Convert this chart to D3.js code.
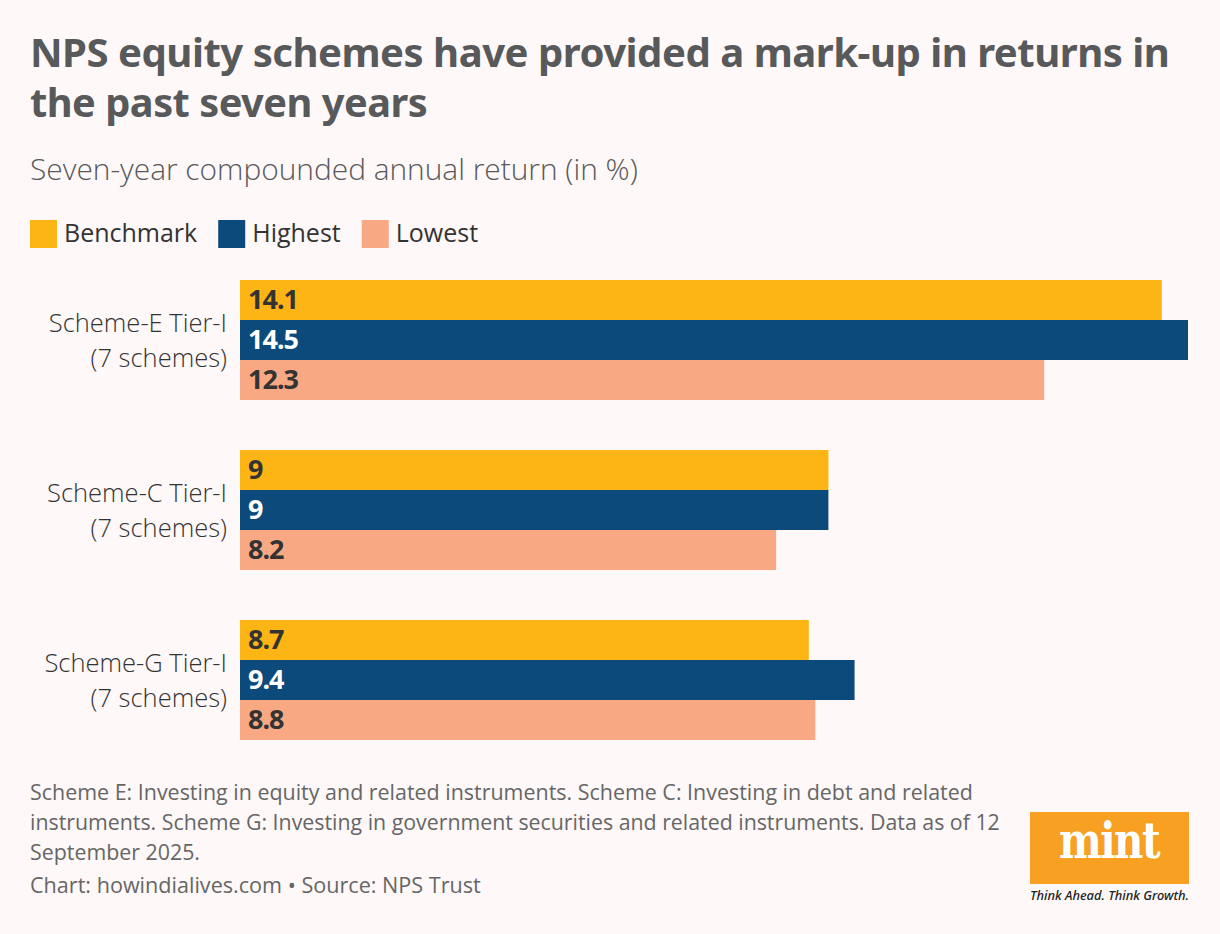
<!DOCTYPE html>
<html><head><meta charset="utf-8">
<script src="https://cdn.jsdelivr.net/npm/d3@7/dist/d3.min.js"></script>
<style>
html,body{margin:0;padding:0;background:#fef8f8;}
svg{display:block;}
</style></head>
<body>
<svg id="chart" width="1220" height="934"></svg>
<script>
const categories = [["Scheme-E Tier-I","(7 schemes)"],["Scheme-C Tier-I","(7 schemes)"],["Scheme-G Tier-I","(7 schemes)"]];
const seriesNames = ["Benchmark","Highest","Lowest"];
const benchmark = [14.1, 9, 8.7];
const highest = [14.5, 9, 9.4];
const lowest = [12.3, 8.2, 8.8];
const colors = ["#fdb515","#0b4a7a","#f8a984"];
const labelColors = ["#333333","#ffffff","#333333"];
const series = [benchmark, highest, lowest];

const svg = d3.select("#chart");
svg.append("rect").attr("width",1220).attr("height",934).attr("fill","#fef8f8");
const FONT = "'Open Sans', 'Noto Sans', sans-serif";

function fit(t, w){
  const n = t.node();
  let fs = parseFloat(t.attr("font-size"));
  const l = n.getComputedTextLength();
  t.attr("font-size", fs * w / l);
}

// Title
const title = [["NPS equity schemes have provided a mark-up in returns in",1138],["the past seven years",397]];
title.forEach((d,i)=>{
  const t = svg.append("text").attr("x",30).attr("y",67+i*50).attr("font-family","'Noto Sans', sans-serif")
    .attr("font-weight",700).attr("font-size",38).attr("fill","#58595b").attr("letter-spacing","-0.5").text(d[0]);
  fit(t,d[1]);
});
const sub = svg.append("text").attr("x",30).attr("y",180).attr("font-family",FONT).attr("font-weight",300)
  .attr("font-size",27).attr("fill","#58595b").text("Seven-year compounded annual return (in %)");
fit(sub,608);

// Legend
let lx = 30;
seriesNames.forEach((s,i)=>{
  svg.append("rect").attr("x",lx).attr("y",220).attr("width",27).attr("height",28).attr("fill",colors[i]);
  const t = svg.append("text").attr("x",lx+34).attr("y",242).attr("font-family",FONT).attr("font-weight",400)
    .attr("font-size",25).attr("fill","#333").text(s);
  lx = lx + 34 + t.node().getComputedTextLength() + 21;
});

// Scales
const x = d3.scaleLinear().domain([0,14.5]).range([240,1188]);
const groupStep = 170;
const groupH = 120;
const y1 = d3.scaleBand().domain(d3.range(3)).range([0,groupH]);

const g = svg.append("g");
categories.forEach((c,ci)=>{
  const gy = 280 + ci*groupStep;
  series.forEach((arr,si)=>{
    const yy = gy + y1(si);
    g.append("rect").attr("x",x(0)).attr("y",yy).attr("width",x(arr[ci])-x(0)).attr("height",y1.bandwidth()).attr("fill",colors[si]);
    g.append("text").attr("x",x(0)+8).attr("y",yy+28.5).attr("font-family","'Noto Sans', sans-serif")
      .attr("font-weight",700).attr("font-size",27).attr("letter-spacing","-1").attr("fill",labelColors[si]).text(arr[ci]);
  });
  const ct = g.append("text").attr("text-anchor","end").attr("font-family",FONT)
      .attr("font-weight",300).attr("font-size",25.5).attr("fill","#333");
  c.forEach((line,li)=>{
    ct.append("tspan").attr("x",227).attr("y",gy+51.5+li*35.5).text(line);
  });
});

// Footer
const notes = [["Scheme E: Investing in equity and related instruments. Scheme C: Investing in debt and related",943],
 ["instruments. Scheme G: Investing in government securities and related instruments. Data as of 12",970],
 ["September 2025.",170]];
notes.forEach((d,i)=>{
  const t = svg.append("text").attr("x",30).attr("y",800+i*30).attr("font-family",FONT).attr("font-weight",400)
    .attr("font-size",20).attr("fill","#666").text(d[0]);
  fit(t,d[1]);
});
const src = svg.append("text").attr("x",30).attr("y",893).attr("font-family",FONT).attr("font-weight",400)
  .attr("font-size",20).attr("fill","#666").text("Chart: howindialives.com \u2022 Source: NPS Trust");
fit(src,451);

// Logo
svg.append("rect").attr("x",1030).attr("y",812).attr("width",159).attr("height",72).attr("fill","#f7a021");
const m = svg.append("text").attr("x",0).attr("y",0).attr("text-anchor","middle").attr("font-family","'DejaVu Serif', serif")
  .attr("font-weight",700).attr("font-size",40).attr("fill","#fff").attr("letter-spacing","-1.5")
  .attr("transform","translate(1109,858) scale(1,1.25)").text("mint");
fit(m,100);
const tg = svg.append("text").attr("x",1030).attr("y",900).attr("font-family","'Noto Sans', sans-serif").attr("font-style","italic")
  .attr("font-weight",500).attr("font-size",13).attr("fill","#222").text("Think Ahead. Think Growth.");
fit(tg,159);
</script>
</body></html>
